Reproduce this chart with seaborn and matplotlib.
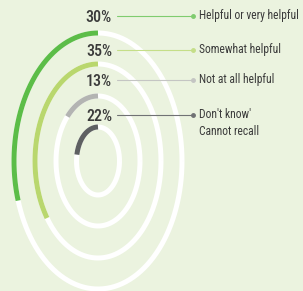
import numpy as np
import matplotlib
matplotlib.use("Agg")
import matplotlib.pyplot as plt
import seaborn as sns

# --- data ---
categories = ["Helpful or very helpful", "Somewhat helpful", "Not at all helpful", "Don't know'\nCannot recall"]
shares = [30, 35, 13, 22]
pct_labels = ["30%", "35%", "13%", "22%"]
colors = ["#5cbd48", "#b9d76e", "#b3b4b2", "#5e6062"]
line_colors = ["#7fcc6f", "#c5de88", "#c4c5c3", "#707274"]

# --- layout (pixels) ---
W, H = 303, 291
cx, cy = 98, 161
rx_list = [84, 63, 42, 21.5]
ry_list = [128, 97, 65, 34]
label_y = [17, 51, 81, 116]
bg = "#ebf3df"
fonts = ['Roboto Condensed', 'Archivo Narrow', 'Liberation Sans', 'DejaVu Sans']

sns.set_theme(style="white")
plt.rcParams['font.family'] = fonts

fig = plt.figure(figsize=(W / 100, H / 100), dpi=100, facecolor=bg)
ax = fig.add_axes([0, 0, 1, 1])
ax.set_facecolor(bg)
ax.set_xlim(0, W)
ax.set_ylim(H, 0)
ax.axis("off")

for i, (val, rx, ry) in enumerate(zip(shares, rx_list, ry_list)):
    # white track
    t = np.linspace(0, 2 * np.pi, 400)
    ax.plot(cx + rx * np.cos(t), cy - ry * np.sin(t), color="white", lw=3.6,
            solid_capstyle="butt")
    # coloured arc, from 12 o'clock counter-clockwise
    t = np.linspace(np.pi / 2, np.pi / 2 + 2 * np.pi * val / 100, 200)
    sns.lineplot(x=cx + rx * np.cos(t), y=cy - ry * np.sin(t), sort=False,
                 color=colors[i], lw=3.6, ax=ax, estimator=None)
    ax.lines[-1].set_solid_capstyle("butt")

    y = label_y[i]
    ax.text(cx + 1, y + 0.5, pct_labels[i], ha="center", va="center", fontsize=11.5,
            fontweight="medium", color="#3a3a3a")
    ax.plot([117, 193], [y - 1, y - 1], color=line_colors[i], lw=0.8)
    ax.plot([193], [y - 1], "o", color=line_colors[i], ms=2.5)
    ax.text(199, y - 1 if "\n" not in categories[i] else y + 7, categories[i],
            ha="left", va="center", fontsize=8.3, color="#3a3a3a", linespacing=1.45)

fig.savefig("out.png", dpi=100, facecolor=bg)
